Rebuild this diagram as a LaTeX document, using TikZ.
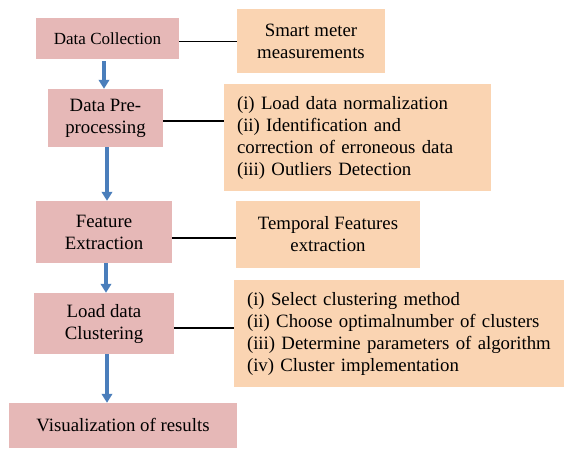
\documentclass[tikz,border=0pt]{standalone}
\usepackage{fontspec}
\setmainfont{Liberation Serif}
\usetikzlibrary{arrows.meta}
\definecolor{pinkc}{HTML}{E6B8B7}
\definecolor{orangec}{HTML}{FAD4B2}
\definecolor{bluec}{HTML}{4A7EBB}
\tikzset{
  stepbox/.style={fill=pinkc, inner sep=0pt, align=center, font=\fontsize{18.8}{22}\selectfont},
  notebox/.style={fill=orangec, inner sep=0pt, align=center, font=\fontsize{18.8}{22}\selectfont},
  listbox/.style={fill=orangec, inner ysep=0pt, inner xsep=13pt, align=left, font=\fontsize{18.8}{22}\selectfont},
  flow/.style={draw=bluec, line width=3.6pt, -{Triangle[width=10.5pt,length=9pt]}},
  link/.style={draw=black, line width=1.1pt}
}
\begin{document}
\begin{tikzpicture}[x=1pt,y=1pt]
\useasboundingbox (0,0) rectangle (564,-448);
\node[stepbox, minimum width=143pt, minimum height=41pt, font=\fontsize{17}{20}\selectfont] (n1) at (107.5,-38.5) {Data Collection};
\node[notebox, minimum width=148pt, minimum height=64pt] (s1) at (311,-41) {Smart meter\\measurements};
\node[stepbox, minimum width=115pt, minimum height=58pt] (n2) at (105.5,-118) {Data Pre-\\processing};
\node[listbox, text width=241pt, minimum height=107pt] (s2) at (357.5,-137.5) {(i) Load data normalization\\(ii) Identification and\\correction of erroneous data\\(iii) Outliers Detection};
\node[stepbox, minimum width=136pt, minimum height=62pt] (n3) at (104,-232) {Feature\\Extraction};
\node[notebox, minimum width=184pt, minimum height=67pt] (s3) at (328,-234.5) {Temporal Features\\extraction};
\node[stepbox, minimum width=140pt, minimum height=61pt] (n4) at (104,-323.5) {Load data\\Clustering};
\node[listbox, text width=304pt, minimum height=107pt] (s4) at (399,-333.5) {(i) Select clustering method\\(ii) Choose optimalnumber of clusters\\(iii) Determine parameters of algorithm\\(iv) Cluster implementation};
\node[stepbox, minimum width=228pt, minimum height=45pt] (n5) at (123,-425.5) {Visualization of results};
\draw[link] ([yshift=-3pt]n1.east) -- ([yshift=-3pt]n1.east -| s1.west);
\draw[link] ([yshift=-3pt]n2.east) -- ([yshift=-3pt]n2.east -| s2.west);
\draw[link] ([yshift=-6pt]n3.east) -- ([yshift=-6pt]n3.east -| s3.west);
\draw[link] ([yshift=-4.5pt]n4.east) -- ([yshift=-4.5pt]n4.east -| s4.west);
\draw[flow] ([xshift=-3.5pt,yshift=-2pt]n1.south) -- ([xshift=-3.5pt]n1.south |- n2.north);
\draw[flow] ([xshift=1.5pt]n2.south) -- ([xshift=1.5pt]n2.south |- n3.north);
\draw[flow] ([xshift=2pt]n3.south) -- ([xshift=2pt]n3.south |- n4.north);
\draw[flow] ([xshift=3pt]n4.south) -- ([xshift=3pt]n4.south |- n5.north);
\end{tikzpicture}
\end{document}
